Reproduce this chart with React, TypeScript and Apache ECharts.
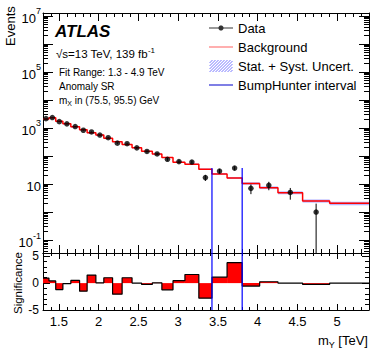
import React, { useEffect, useRef } from "react";
import * as echarts from "echarts";

// ---------------- data ----------------
const binEdges = [1.3, 1.375, 1.46, 1.55, 1.65, 1.76, 1.855, 1.965, 2.065, 2.175, 2.295, 2.42, 2.54, 2.675, 2.795, 2.935, 3.085, 3.26, 3.425, 3.615, 3.805, 4.025, 4.255, 4.565, 4.905, 5.4];
const dataEvents = [2150, 2350, 1680, 1400, 1120, 828, 720, 560, 450, 287, 275, 195, 145, 118, 76, 63, 61, 17, 29, 37, 7, 9, 5, 1, 0];
const backgroundEvents = [2100, 2330, 1730, 1410, 1100, 870, 680, 558, 430, 325, 259, 195, 148, 117, 88, 59.5, 51, 34, 23, 16.4, 10.5, 7.4, 4.9, 2.5, 2.05];
const uncertFraction = [0.03, 0.02, 0.02, 0.02, 0.02, 0.02, 0.02, 0.02, 0.02, 0.03, 0.03, 0.03, 0.03, 0.04, 0.04, 0.05, 0.05, 0.06, 0.07, 0.08, 0.1, 0.11, 0.12, 0.13, 0.14];
const significance = [0.94, 0.4, -1.2, -0.1, 0.5, -1.5, 1.5, 0.06, 1.0, -2.06, 1.0, 0, -0.25, 0.06, -1.25, 0.45, 1.6, -2.8, 1.1, 3.8, -0.56, 0.25, 0, -0.25, 0];
const bumpHunterEdges = [3.425, 3.805];
const bumpHunterTop = 37;
const xTickLabels = [1.5, 2, 2.5, 3, 3.5, 4, 4.5, 5];
const yDecadeLabels = [-1, 1, 3, 5, 7];
const sigTickLabels = [-5, 0, 5];

// ---------------- ranges / styles ----------------
const X_MIN = 1.3, X_MAX = 5.4;
const LY_MIN = -1.46, LY_MAX = 7.1;
const S_MIN = -5, S_MAX = 5.6;
const FF = '"Liberation Sans", Arial, Helvetica, sans-serif';

const xMinor: number[] = [];
for (let i = 13; i <= 54; i++) if (i % 5 !== 0) xMinor.push(i / 10);
const yMajor: number[] = [];
for (let n = -1; n <= 7; n++) yMajor.push(n);
const yMinor: number[] = [];
for (let n = -2; n <= 7; n++) for (let k = 2; k <= 9; k++) { const v = n + Math.log10(k); if (v > LY_MIN && v < LY_MAX) yMinor.push(v); }
const sigMinor = [-4, -3, -2, -1, 1, 2, 3, 4];

// ---------------- derived series ----------------
const lg = (v: number) => Math.log10(v);
const centers = dataEvents.map((_, i) => (binEdges[i] + binEdges[i + 1]) / 2);
const bgStep = backgroundEvents.map((b, i) => [binEdges[i], lg(b)]).concat([[binEdges[binEdges.length - 1], lg(backgroundEvents[backgroundEvents.length - 1])]]);
const bandData = backgroundEvents.map((b, i) => [binEdges[i], binEdges[i + 1], lg(b * (1 - uncertFraction[i])), lg(b * (1 + uncertFraction[i]))]);
const dataPts: number[][] = [];
const errPts: number[][] = [];
dataEvents.forEach((n, i) => {
  if (n <= 0) return;
  dataPts.push([centers[i], lg(n)]);
  const lo = n - Math.sqrt(n);
  errPts.push([centers[i], lo > 0 ? lg(lo) : LY_MIN, lg(n + Math.sqrt(n))]);
});
const sigBars = significance.map((s, i) => [binEdges[i], binEdges[i + 1], s]);
const sigStep = significance.map((s, i) => [binEdges[i], s]).concat([[binEdges[binEdges.length - 1], significance[significance.length - 1]]]);

// ---------------- legend icons (24 x 12 box) ----------------
const corners = "M0,0h0.01v0.01h-0.01z M23.99,11.99h0.01v0.01h-0.01z ";
const lineIcon = "path://" + corners + "M0,5.4h24v1.2h-24z";
let circ = "";
for (let k = 0; k < 16; k++) {
  const a = (k / 16) * Math.PI * 2;
  circ += (k === 0 ? "M" : "L") + (12 + 2.6 * Math.cos(a)).toFixed(2) + "," + (6 + 2.6 * Math.sin(a)).toFixed(2);
}
const dataIcon = "path://" + corners + "M0,5.5h24v1h-24z " + circ + "z";
let hatch = "";
for (let c = -12; c <= 24; c += 3) {
  const yT = Math.max(0, c - 11), yB = Math.min(12, c + 12);
  if (yT >= yB) continue;
  const xb = c + 12 - yB, xt = c + 12 - yT;
  hatch += `M${xb},${yB}L${xb + 1},${yB}L${xt + 1},${yT}L${xt},${yT}z `;
}
const hatchIcon = "path://" + corners + hatch;

// ---------------- axes ----------------
const xAx = (grid: number, pos: string, ticks: number[], len: number, line: boolean, label?: any) => ({
  type: "value", gridIndex: grid, position: pos, min: X_MIN, max: X_MAX,
  axisLine: { show: line, onZero: false, lineStyle: { color: "#000", width: 1 } },
  axisTick: { show: true, inside: true, length: len, customValues: ticks, lineStyle: { color: "#000", width: 1 } },
  axisLabel: label ?? { show: false },
  splitLine: { show: false },
});
const yAx = (grid: number, pos: string, min: number, max: number, ticks: number[], len: number, line: boolean, label?: any) => ({
  type: "value", gridIndex: grid, position: pos, min, max,
  axisLine: { show: line, onZero: false, lineStyle: { color: "#000", width: 1 } },
  axisTick: { show: true, inside: true, length: len, customValues: ticks, lineStyle: { color: "#000", width: 1 } },
  axisLabel: label ?? { show: false },
  splitLine: { show: false },
});

const option: any = {
  animation: false,
  backgroundColor: "#fff",
  grid: [
    { left: 43, top: 13, width: 326, height: 240, containLabel: false, outerBoundsMode: "none" },
    { left: 43, top: 253, width: 326, height: 57, containLabel: false, outerBoundsMode: "none" },
  ],
  xAxis: [
    xAx(0, "bottom", xTickLabels, 8, true),
    xAx(0, "bottom", xMinor, 4, false),
    xAx(0, "top", xTickLabels, 8, true),
    xAx(0, "top", xMinor, 4, false),
    xAx(1, "top", xTickLabels, 6, true),
    xAx(1, "top", xMinor, 3, false),
    xAx(1, "bottom", xTickLabels, 6, true, {
      show: true, customValues: xTickLabels, margin: 5, fontSize: 13, fontFamily: FF, color: "#000",
      formatter: (v: number) => String(v),
    }),
    xAx(1, "bottom", xMinor, 3, false),
  ],
  yAxis: [
    yAx(0, "left", LY_MIN, LY_MAX, yMajor, 10, true, {
      show: true, customValues: yDecadeLabels, margin: 2, fontSize: 13, fontFamily: FF, color: "#000", lineHeight: 18,
      formatter: (v: number) => { const n = Math.round(v); return n === 1 ? "{b|10}" : `{b|10}{s|${n}}`; },
      rich: {
        b: { fontSize: 13, fontFamily: FF, color: "#000", lineHeight: 18, verticalAlign: "bottom" },
        s: { fontSize: 9, fontFamily: FF, color: "#000", lineHeight: 9, verticalAlign: "top" },
      },
    }),
    yAx(0, "left", LY_MIN, LY_MAX, yMinor, 5, false),
    yAx(0, "right", LY_MIN, LY_MAX, yMajor, 10, true),
    yAx(0, "right", LY_MIN, LY_MAX, yMinor, 5, false),
    yAx(1, "left", S_MIN, S_MAX, sigTickLabels, 7, true, {
      show: true, customValues: sigTickLabels, margin: 4, fontSize: 12, fontFamily: FF, color: "#000",
      formatter: (v: number) => String(v),
    }),
    yAx(1, "left", S_MIN, S_MAX, sigMinor, 4, false),
    yAx(1, "right", S_MIN, S_MAX, sigTickLabels, 7, true),
    yAx(1, "right", S_MIN, S_MAX, sigMinor, 4, false),
  ],
  legend: {
    orient: "vertical", left: 209, top: 21, padding: 0, itemWidth: 24, itemHeight: 12, itemGap: 5,
    selectedMode: false,
    textStyle: { fontSize: 13, fontFamily: FF, color: "#000", lineHeight: 14 },
    data: [
      { name: "Data", icon: dataIcon, itemStyle: { color: "#000", borderWidth: 0 } },
      { name: "Background", icon: lineIcon, itemStyle: { color: "#ff6060", borderWidth: 0 } },
      { name: "Stat. + Syst. Uncert.", icon: hatchIcon, itemStyle: { color: "#7878ff", borderWidth: 0 } },
      { name: "BumpHunter interval", icon: lineIcon, itemStyle: { color: "#0000cc", borderWidth: 0 } },
    ],
  },
  series: [
    {
      name: "Stat. + Syst. Uncert.", type: "custom", xAxisIndex: 0, yAxisIndex: 0, data: bandData,
      encode: { x: [0, 1], y: [2, 3] }, z: 1,
      renderItem: (_p: any, api: any) => {
        const a = api.coord([api.value(0), api.value(3)]);
        const b = api.coord([api.value(1), api.value(2)]);
        return { type: "rect", shape: { x: a[0], y: a[1], width: b[0] - a[0], height: Math.max(1, b[1] - a[1]) }, style: { fill: "rgba(120,120,255,0.55)" } };
      },
    },
    {
      name: "Background", type: "line", xAxisIndex: 0, yAxisIndex: 0, step: "end", data: bgStep,
      symbol: "none", lineStyle: { color: "#ff0000", width: 1.5 }, itemStyle: { color: "#ff0000" }, z: 2,
    },
    {
      name: "DataErr", type: "custom", xAxisIndex: 0, yAxisIndex: 0, data: errPts,
      encode: { x: 0, y: [1, 2] }, z: 3,
      renderItem: (_p: any, api: any) => {
        const a = api.coord([api.value(0), api.value(2)]);
        const b = api.coord([api.value(0), api.value(1)]);
        return { type: "line", shape: { x1: a[0], y1: a[1], x2: b[0], y2: b[1] }, style: { stroke: "#000", lineWidth: 1 } };
      },
    },
    {
      name: "Data", type: "scatter", xAxisIndex: 0, yAxisIndex: 0, data: dataPts,
      symbol: "circle", symbolSize: 5.5, itemStyle: { color: "#000" }, z: 4,
    },
    ...bumpHunterEdges.map((e) => ({
      name: "BumpHunter interval", type: "line", xAxisIndex: 0, yAxisIndex: 0,
      data: [[e, LY_MIN], [e, lg(bumpHunterTop)]], symbol: "none",
      lineStyle: { color: "#0000ff", width: 1.2 }, itemStyle: { color: "#0000ff" }, z: 5,
    })),
    {
      name: "SigBars", type: "custom", xAxisIndex: 6, yAxisIndex: 4, data: sigBars,
      encode: { x: [0, 1], y: 2 }, z: 1,
      renderItem: (_p: any, api: any) => {
        const s = api.value(2);
        const a = api.coord([api.value(0), Math.max(s, 0)]);
        const b = api.coord([api.value(1), Math.min(s, 0)]);
        return { type: "rect", shape: { x: a[0], y: a[1], width: b[0] - a[0], height: b[1] - a[1] }, style: { fill: "#ff0000" } };
      },
    },
    {
      name: "SigLine", type: "line", xAxisIndex: 6, yAxisIndex: 4, step: "end", data: sigStep,
      symbol: "none", lineStyle: { color: "#000", width: 1.2 }, z: 2,
    },
    ...bumpHunterEdges.map((e) => ({
      name: "BumpHunter interval", type: "line", xAxisIndex: 6, yAxisIndex: 4,
      data: [[e, S_MIN], [e, S_MAX]], symbol: "none",
      lineStyle: { color: "#0000ff", width: 1.2 }, itemStyle: { color: "#0000ff" }, z: 5,
    })),
  ],
  graphic: [
    { type: "text", x: 55, y: 31, style: { text: "ATLAS", fontSize: 17, fontWeight: "bold", fontStyle: "italic", fontFamily: FF, fill: "#000", verticalAlign: "middle" } },
    {
      type: "text", x: 56, y: 54,
      style: {
        text: "√s=13 TeV, 139 fb{sup|-1}", fontSize: 11.5, fontFamily: FF, fill: "#000", verticalAlign: "middle", lineHeight: 16,
        rich: { sup: { fontSize: 8, fontFamily: FF, fill: "#000", lineHeight: 8, verticalAlign: "top" } },
      },
    },
    { type: "text", x: 59, y: 72, style: { text: "Fit Range: 1.3 - 4.9 TeV", fontSize: 10, fontFamily: FF, fill: "#000", verticalAlign: "middle" } },
    { type: "text", x: 59, y: 86, style: { text: "Anomaly SR", fontSize: 10, fontFamily: FF, fill: "#000", verticalAlign: "middle" } },
    {
      type: "text", x: 59, y: 100,
      style: {
        text: "m{sub|X} in (75.5, 95.5) GeV", fontSize: 10, fontFamily: FF, fill: "#000", verticalAlign: "middle", lineHeight: 14,
        rich: { sub: { fontSize: 7, fontFamily: FF, fill: "#000", lineHeight: 10, verticalAlign: "bottom" } },
      },
    },
    { type: "text", x: 10, y: 26, rotation: Math.PI / 2, style: { text: "Events", fontSize: 13, fontFamily: FF, fill: "#000", align: "center", verticalAlign: "middle" } },
    { type: "text", x: 18, y: 283, rotation: Math.PI / 2, style: { text: "Significance", fontSize: 11.5, fontFamily: FF, fill: "#000", align: "center", verticalAlign: "middle" } },
    {
      type: "text", x: 368, y: 340,
      style: {
        text: "m{sub|Y} [TeV]", fontSize: 13, fontFamily: FF, fill: "#000", align: "right", verticalAlign: "middle", lineHeight: 18,
        rich: { sub: { fontSize: 9, fontFamily: FF, fill: "#000", lineHeight: 12, verticalAlign: "bottom" } },
      },
    },
  ],
};

export default function App() {
  const ref = useRef<HTMLDivElement>(null);
  useEffect(() => {
    document.body.style.margin = "0";
    const chart = echarts.init(ref.current!, null, { renderer: "svg" });
    chart.setOption(option);
    return () => chart.dispose();
  }, []);
  return <div ref={ref} style={{ width: 370, height: 348 }} />;
}
